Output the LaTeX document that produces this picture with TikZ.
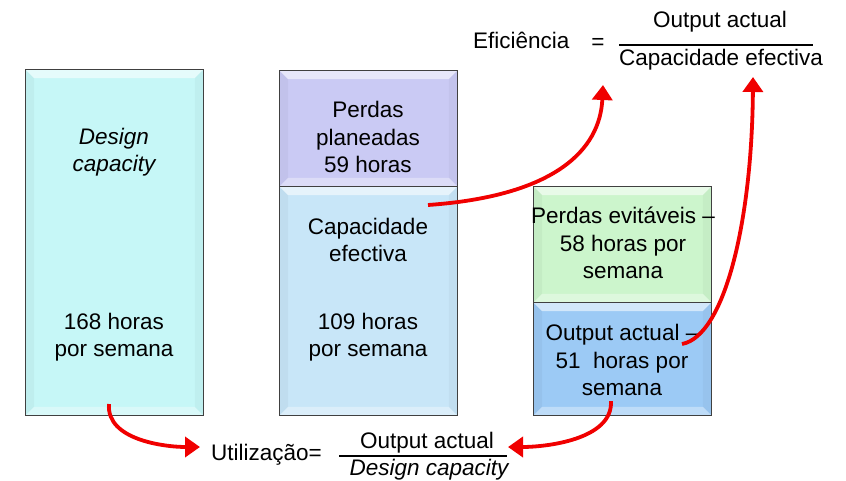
\documentclass[tikz,border=0pt]{standalone}
\usepackage{fontspec}
\setmainfont{Liberation Sans}
\usetikzlibrary{calc,arrows.meta}
\definecolor{cyanbox}{HTML}{C6F7F7}
\definecolor{lavbox}{HTML}{CACAF4}
\definecolor{skybox}{HTML}{C8E6F8}
\definecolor{greenbox}{HTML}{CCF5CC}
\definecolor{bluebox}{HTML}{9CCAF5}
\definecolor{arrowred}{HTML}{F00000}
\tikzset{
  box/.style={draw=black!75, line width=0.9pt, anchor=north west, inner sep=0pt, minimum width=178pt},
  txt/.style={align=center, font=\fontsize{22.5}{27.5}\selectfont, inner sep=0pt, text=black},
  redarrow/.style={draw=arrowred, line width=3.8pt, -{Triangle[width=20pt,length=15pt]}},
  fracline/.style={line width=1.6pt, black}
}
\newcommand\bevelfacets[1]{%
  \fill[white, opacity=0.55] (#1.north west) -- (#1.north east) -- ($(#1.north east)+(-9,9)$) -- ($(#1.north west)+(9,9)$) -- cycle;
  \fill[white, opacity=0.35] (#1.south west) -- (#1.south east) -- ($(#1.south east)+(-9,-9)$) -- ($(#1.south west)+(9,-9)$) -- cycle;
  \fill[black, opacity=0.035] (#1.north west) -- (#1.south west) -- ($(#1.south west)+(9,-9)$) -- ($(#1.north west)+(9,9)$) -- cycle;
  \fill[black, opacity=0.03] (#1.north east) -- (#1.south east) -- ($(#1.south east)+(-9,-9)$) -- ($(#1.north east)+(-9,9)$) -- cycle;
  \draw[black!75, line width=0.9pt] (#1.north west) rectangle (#1.south east);
}
\begin{document}
\begin{tikzpicture}[x=1pt, y=-1pt]
\useasboundingbox (0,0) rectangle (846,480);
% boxes
\node[box, fill=cyanbox, minimum height=346pt] (design) at (25,69) {};
\node[box, fill=lavbox, minimum height=116pt] (planned) at (279,70) {};
\node[box, fill=skybox, minimum height=229pt] (effective) at (279,186) {};
\node[box, fill=greenbox, minimum height=116pt] (avoid) at (533,186) {};
\node[box, fill=bluebox, minimum height=113pt] (output) at (533,302) {};
\bevelfacets{design}
\bevelfacets{planned}
\bevelfacets{effective}
\bevelfacets{avoid}
\bevelfacets{output}
% box texts
\node[txt] (t1a) at (114,152) {\itshape Design\\\itshape capacity};
\node[txt] (t1b) at (114,337) {168 horas\\por semana};
\node[txt] (t2a) at (368,137) {Perdas\\planeadas\\59 horas};
\node[txt] (t2b) at (368,240) {Capacidade\\efectiva};
\node[txt] (t2c) at (368,337) {109 horas\\por semana};
\node[txt] (t3a) at (623,243) {Perdas evitáveis –\\58 horas por\\semana};
\node[txt] (t3b) at (622,360) {Output actual –\\51\ \ horas por\\semana};
% top formula
\node[txt, anchor=west] (eff) at (473,40) {Eficiência};
\node[txt] (effeq) at (598,44) {=};
\node[txt] (effnum) at (720,22) {Output actual};
\node[txt] (effden) at (721,60) {Capacidade efectiva};
\coordinate (effl) at (619,45);
\coordinate (effr) at (813,45);
\draw[fracline] (effl) -- (effr);
% bottom formula
\node[txt, anchor=west] (util) at (211,455) {Utilização=};
\node[txt] (utilnum) at (427,443) {Output actual};
\node[txt] (utilden) at (429,470) {\itshape Design capacity};
\coordinate (utill) at (339,456);
\coordinate (utilr) at (507,456);
\draw[fracline] (utill) -- (utilr);
% arrows
\coordinate (s1) at (109,404);
\coordinate (e1) at (200,447);
\coordinate (s2) at (611,401);
\coordinate (e2) at (508,447);
\coordinate (s3) at (428,205);
\coordinate (e3) at (603,85);
\coordinate (s4) at (682,344);
\coordinate (e4) at (753,77);
\draw[redarrow] (s1) .. controls (106,440) and (165,447) .. (e1);
\draw[redarrow] (s2) .. controls (613,440) and (545,447) .. (e2);
\draw[redarrow] (s3) .. controls (555,196) and (600,150) .. (e3);
\draw[redarrow] (s4) .. controls (725,336) and (752,220) .. (e4);
\end{tikzpicture}
\end{document}
